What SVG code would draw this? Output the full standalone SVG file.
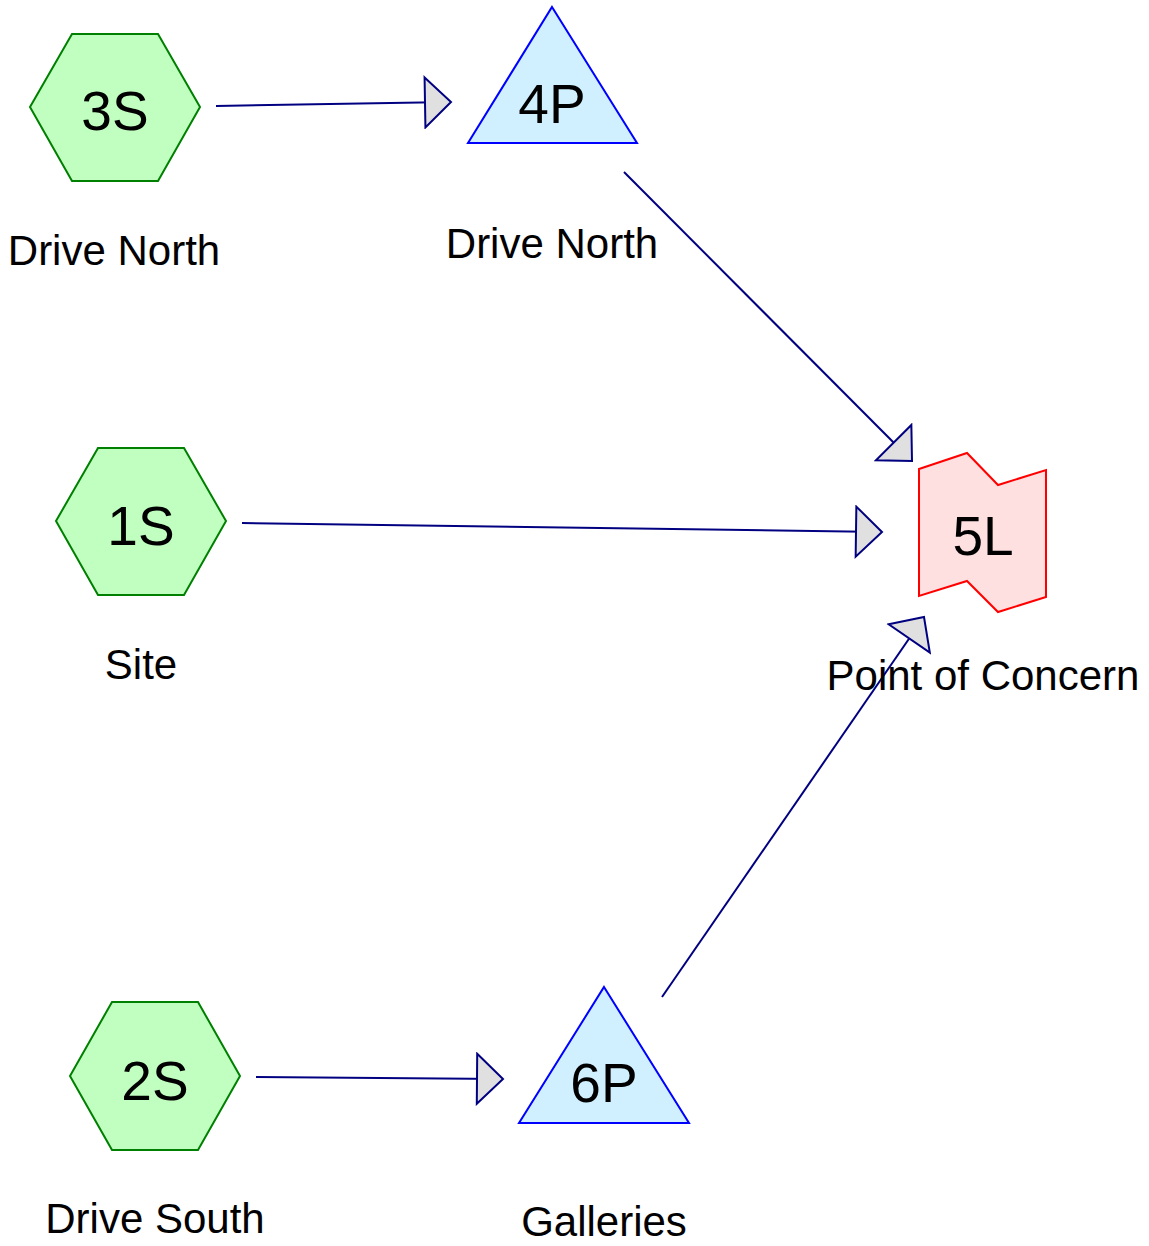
<svg xmlns="http://www.w3.org/2000/svg" width="1149" height="1246" viewBox="0 0 1149 1246">
<style>
.hex{fill:#c0ffc0;stroke:#008000;stroke-width:2}
.tri{fill:#d0f0ff;stroke:#0000ff;stroke-width:2}
.loc{fill:#ffe0e0;stroke:#ff0000;stroke-width:2}
.big{font-family:"Liberation Sans",Arial,sans-serif;font-size:55px;fill:#000;text-anchor:middle}
.lbl{font-family:"Liberation Sans",Arial,sans-serif;font-size:42px;fill:#000;text-anchor:middle}
.edge{stroke:#000080;stroke-width:2;fill:none;marker-end:url(#arr)}
</style>
<defs>
<marker id="arr" markerUnits="userSpaceOnUse" viewBox="0 0 30 54" markerWidth="30" markerHeight="54" refX="28" refY="27" orient="auto">
<path d="M2,2 L28,27 L2,52 Z" fill="#e0e0e0" stroke="#000080" stroke-width="2"/>
</marker>
</defs>
<g id="connectors">
<line class="edge" x1="216" y1="106" x2="451" y2="102"/>
<line class="edge" x1="242" y1="523" x2="882" y2="532"/>
<line class="edge" x1="624" y1="172" x2="912" y2="461"/>
<line class="edge" x1="662" y1="997" x2="924" y2="617"/>
<line class="edge" x1="256" y1="1077" x2="503" y2="1079"/>
</g>
<g id="n3S">
<polygon class="hex" points="30,107 72,34 158,34 200,107 158,181 72,181"/>
<text class="big" x="115" y="130">3S</text>
<text class="lbl" x="114" y="265">Drive North</text>
</g>
<g id="n1S">
<polygon class="hex" points="56,521 98,448 184,448 226,521 184,595 98,595"/>
<text class="big" x="141" y="545">1S</text>
<text class="lbl" x="141" y="679">Site</text>
</g>
<g id="n2S">
<polygon class="hex" points="70,1076 112,1002 198,1002 240,1076 198,1150 112,1150"/>
<text class="big" x="155" y="1100">2S</text>
<text class="lbl" x="155" y="1233">Drive South</text>
</g>
<g id="n4P">
<polygon class="tri" points="552,7 637,143 468,143"/>
<text class="big" x="552" y="123">4P</text>
<text class="lbl" x="552" y="258">Drive North</text>
</g>
<g id="n6P">
<polygon class="tri" points="604,987 689,1123 519,1123"/>
<text class="big" x="604" y="1102">6P</text>
<text class="lbl" x="604" y="1236">Galleries</text>
</g>
<g id="n5L">
<polygon class="loc" points="919,469 967,453 998,485 1046,470 1046,597 998,612 967,581 919,596"/>
<text class="big" x="983" y="555">5L</text>
<text class="lbl" x="983" y="690">Point of Concern</text>
</g>
</svg>
